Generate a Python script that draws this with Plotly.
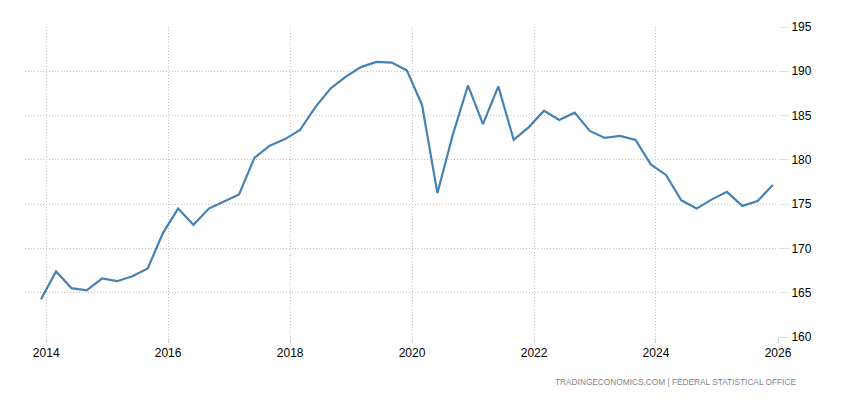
import plotly.graph_objects as go

dates = [
    "2013-12-01",
    "2014-03-01", "2014-06-01", "2014-09-01", "2014-12-01",
    "2015-03-01", "2015-06-01", "2015-09-01", "2015-12-01",
    "2016-03-01", "2016-06-01", "2016-09-01", "2016-12-01",
    "2017-03-01", "2017-06-01", "2017-09-01", "2017-12-01",
    "2018-03-01", "2018-06-01", "2018-09-01", "2018-12-01",
    "2019-03-01", "2019-06-01", "2019-09-01", "2019-12-01",
    "2020-03-01", "2020-06-01", "2020-09-01", "2020-12-01",
    "2021-03-01", "2021-06-01", "2021-09-01", "2021-12-01",
    "2022-03-01", "2022-06-01", "2022-09-01", "2022-12-01",
    "2023-03-01", "2023-06-01", "2023-09-01", "2023-12-01",
    "2024-03-01", "2024-06-01", "2024-09-01", "2024-12-01",
    "2025-03-01", "2025-06-01", "2025-09-01", "2025-12-01",
]
values = [
    164.27,
    167.4, 165.52, 165.27, 166.6,
    166.3, 166.85, 167.74, 171.73,
    174.5, 172.66, 174.5, 175.3,
    176.1, 180.23, 181.6, 182.34,
    183.37, 185.96, 188.07, 189.4,
    190.47, 191.06, 190.98, 190.1,
    186.2, 176.24, 182.82, 188.4,
    184.04, 188.3, 182.26, 183.7,
    185.55, 184.5, 185.33, 183.26,
    182.48, 182.7, 182.26, 179.49,
    178.3, 175.43, 174.5, 175.54,
    176.39, 174.8, 175.35, 177.16,
]
x_ticks = ["2014-01-01", "2016-01-01", "2018-01-01", "2020-01-01",
           "2022-01-01", "2024-01-01", "2026-01-01"]
x_tick_labels = ["2014", "2016", "2018", "2020", "2022", "2024", "2026"]
y_ticks = [160, 165, 170, 175, 180, 185, 190, 195]
source_text = "TRADINGECONOMICS.COM | FEDERAL STATISTICAL OFFICE"

fig = go.Figure()
fig.add_trace(go.Scatter(
    x=dates, y=values, mode="lines",
    line=dict(color="#4682b4", width=2.2),
    hoverinfo="x+y",
))

grid = "#c4c4c4"
fig.update_layout(
    width=850, height=400,
    margin=dict(l=17, r=80, t=13, b=71),
    plot_bgcolor="white", paper_bgcolor="white",
    showlegend=False,
    font=dict(family="Liberation Sans, Arial, sans-serif", size=11, color="#000"),
    xaxis=dict(
        type="date",
        range=["2013-08-27", "2026-01-01"],
        tickvals=x_ticks, ticktext=x_tick_labels,
        showgrid=True, gridcolor=grid, griddash="1px,2px", gridwidth=1,
        ticks="outside", ticklen=5, tickcolor="#d4d4d4",
        showline=False, zeroline=False,
        tickfont=dict(size=12),
    ),
    yaxis=dict(
        side="right",
        range=[160, 195],
        tickvals=y_ticks,
        showgrid=True, gridcolor=grid, griddash="1px,2px", gridwidth=1,
        ticks="outside", ticklen=10, tickcolor="#e0e0e0",
        showline=False, zeroline=False,
        tickfont=dict(size=12),
    ),
    annotations=[dict(
        text=source_text, xref="paper", yref="paper",
        x=1.0266, y=-0.146, xanchor="right", yanchor="middle", showarrow=False,
        font=dict(size=8.3, color="#7e8592", family="Liberation Sans, Arial, sans-serif"),
    )],
)

fig.write_html("out.html")
